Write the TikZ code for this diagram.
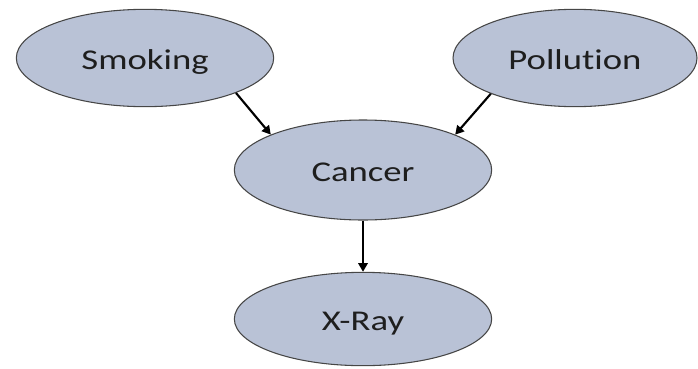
\documentclass[tikz,border=0pt]{standalone}
\usepackage{fontspec}
\setmainfont[FakeStretch=1.28, Ligatures=NoCommon]{Carlito}
\usepackage{xcolor}
\definecolor{colNode}{RGB}{185,194,214}
\definecolor{colNodeLine}{RGB}{70,70,70}
\definecolor{colText}{RGB}{30,30,30}
\usepackage{tikz}
\usetikzlibrary{arrows.meta, positioning, shapes.geometric}
\tikzset{
	causenode/.style={ellipse, draw=colNodeLine, fill=colNode, line width=0.8pt, minimum width=193pt, minimum height=73pt, font=\fontsize{21.5}{25}\selectfont, text=colText, inner sep=0pt, text height=16.5pt, text depth=0pt},
	causearr/.style={-{Triangle[length=6.5pt, width=7pt]}, line width=1.6pt, black},
}

\begin{document}
\begin{tikzpicture}[x=0.75pt, y=-0.75pt]
		\useasboundingbox (0,0) rectangle (698,368);

		% Parent variables
		\node[causenode] (smoke) at (145,58) {Smoking};
		\node[causenode, minimum width=183pt] (poll) at (575,58) {Pollution};

		% Child variables
		\node[causenode, minimum height=75pt] (cancer) at (363,170) {Cancer};
		\node[causenode, minimum height=70pt] (xray) at (363,319) {X-Ray};

		% Edges
		\draw[causearr] (smoke.-21) -- (cancer.159);
		\draw[causearr] (poll.-157) -- (cancer.21);
		\draw[causearr] (cancer) -- (xray);
	\end{tikzpicture}
\end{document}
